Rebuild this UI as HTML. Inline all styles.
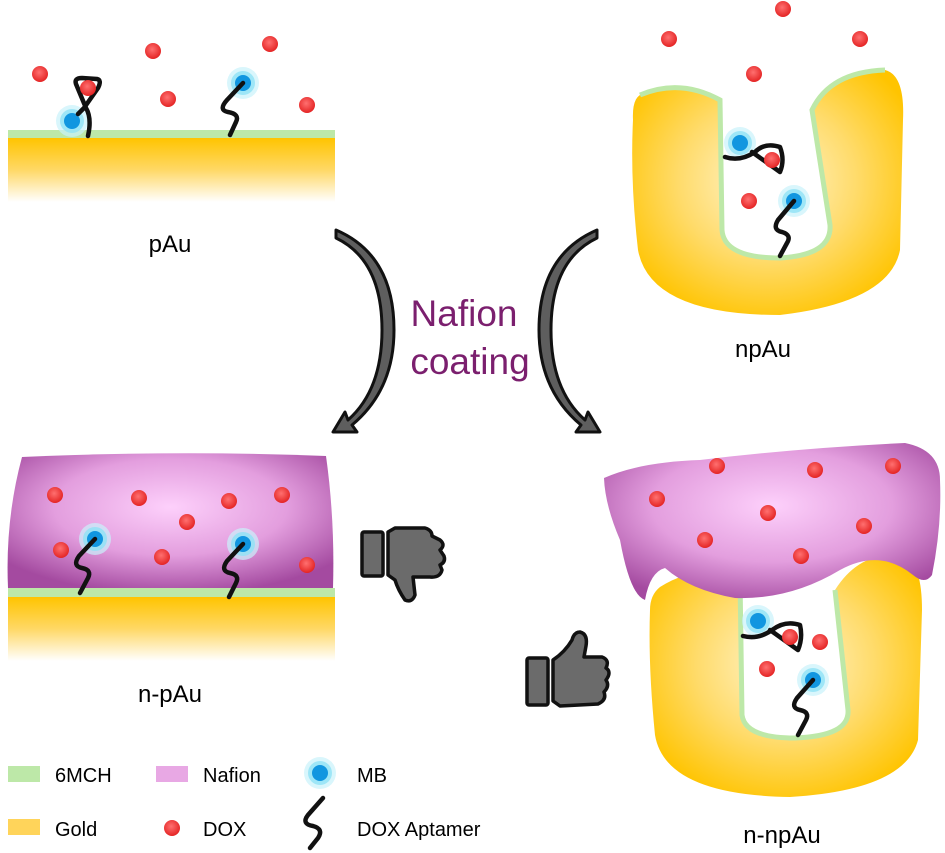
<!DOCTYPE html>
<html><head><meta charset="utf-8"><style>
html,body{margin:0;padding:0;background:#fff;}
svg{display:block;}
text{font-family:"Liberation Sans",Arial,sans-serif;}
</style></head><body>
<svg width="945" height="853" viewBox="0 0 945 853" xmlns="http://www.w3.org/2000/svg">
<defs>
<linearGradient id="goldL" x1="0" y1="0" x2="0" y2="1">
<stop offset="0" stop-color="#ffc400"/><stop offset="0.5" stop-color="#ffd866"/><stop offset="1" stop-color="#ffffff"/>
</linearGradient>
<radialGradient id="goldR" cx="0.5" cy="0.45" r="0.6">
<stop offset="0" stop-color="#fff6d6"/><stop offset="0.55" stop-color="#ffdb6a"/><stop offset="1" stop-color="#ffc400"/>
</radialGradient>
<radialGradient id="purp" cx="0.5" cy="0.4" r="0.65">
<stop offset="0" stop-color="#fdd0fb"/><stop offset="0.55" stop-color="#e39ede"/><stop offset="1" stop-color="#a44aa0"/>
</radialGradient>
<radialGradient id="red" cx="0.45" cy="0.4" r="0.6">
<stop offset="0" stop-color="#ff7070"/><stop offset="1" stop-color="#e42424"/>
</radialGradient>
<g id="dox"><circle r="8" fill="url(#red)"/></g>
<g id="mb"><circle r="16" fill="#c9f2fb" opacity="0.7"/><circle r="12" fill="#8fe2f5" opacity="0.8"/><circle r="8" fill="#1196e0"/></g>
</defs>

<!-- pAu -->
<rect x="8" y="138" width="327" height="64" fill="url(#goldL)"/>
<rect x="8" y="130" width="327" height="8" fill="#bde8a8"/>
<use href="#dox" x="40" y="74"/><use href="#dox" x="153" y="51"/><use href="#dox" x="168" y="99"/>
<use href="#dox" x="270" y="44"/><use href="#dox" x="307" y="105"/>
<use href="#mb" x="72" y="121"/>
<path d="M88,136 Q92,118 86,108 L76,84 Q74,78 82,78 L97,79 Q102,80 98,88 L84,108 L78,114" fill="none" stroke="#111" stroke-width="4.5" stroke-linecap="round" stroke-linejoin="round"/>
<use href="#dox" x="88" y="88"/>
<use href="#mb" x="243" y="83"/>
<path d="M243,83 L227,100 Q218,110 228,112 Q240,114 236,122 L230,135" fill="none" stroke="#111" stroke-width="4.5" stroke-linecap="round" stroke-linejoin="round"/>
<text x="170" y="252" font-size="24" text-anchor="middle">pAu</text>

<!-- npAu -->
<path d="M640,95 Q680,78 720,100 L722,230 Q724,258 780,258 Q832,255 830,225 L812,110 Q830,72 885,70 Q905,75 903,120 L900,250 Q890,302 780,315 Q650,315 638,250 Q630,180 633,120 Q632,100 640,95 Z" fill="url(#goldR)"/>
<path d="M640,95 Q680,78 720,100 L722,230 Q724,258 780,258 Q832,255 830,225 L812,110 Q830,72 885,70" fill="none" stroke="#bde8a8" stroke-width="5"/>
<use href="#dox" x="669" y="39"/><use href="#dox" x="783" y="9"/><use href="#dox" x="860" y="39"/><use href="#dox" x="754" y="74"/>
<use href="#dox" x="749" y="201"/>
<use href="#mb" x="740" y="143"/>
<path d="M725,157 Q740,162 755,152 Q765,142 780,147 Q785,160 780,172 L752,152" fill="none" stroke="#111" stroke-width="4.5" stroke-linecap="round" stroke-linejoin="round"/>
<use href="#dox" x="772" y="160"/>
<use href="#mb" x="794" y="201"/>
<path d="M794,201 L778,220 Q772,230 782,232 Q792,235 787,243 L780,256" fill="none" stroke="#111" stroke-width="4.5" stroke-linecap="round" stroke-linejoin="round"/>
<text x="763" y="357" font-size="24" text-anchor="middle">npAu</text>

<!-- arrows -->
<path d="M336,230 L336,238 Q382,260 382,330 Q382,390 348,420 L345,412 L333,432 L357,432 L352,425 Q394,390 394,330 Q394,255 336,230 Z" fill="#5e5e5e" stroke="#111" stroke-width="3" stroke-linejoin="round"/>
<path d="M597,230 L597,238 Q551,260 551,330 Q551,390 585,420 L588,412 L600,432 L576,432 L581,425 Q539,390 539,330 Q539,255 597,230 Z" fill="#5e5e5e" stroke="#111" stroke-width="3" stroke-linejoin="round"/>
<text x="464" y="326" font-size="37" fill="#7b1f6e" text-anchor="middle">Nafion</text>
<text x="470" y="374" font-size="37" fill="#7b1f6e" text-anchor="middle">coating</text>

<!-- n-pAu -->
<path d="M22,457 Q180,450 326,456 Q335,520 333,588 L8,588 Q5,520 22,457 Z" fill="url(#purp)"/>
<rect x="8" y="597" width="327" height="64" fill="url(#goldL)"/>
<rect x="8" y="588" width="327" height="9" fill="#bde8a8"/>
<use href="#dox" x="55" y="495"/><use href="#dox" x="139" y="498"/><use href="#dox" x="229" y="501"/>
<use href="#dox" x="282" y="495"/><use href="#dox" x="187" y="522"/><use href="#dox" x="61" y="550"/>
<use href="#dox" x="162" y="557"/><use href="#dox" x="307" y="565"/>
<use href="#mb" x="95" y="539"/>
<path d="M95,539 L79,556 Q72,566 82,568 Q92,570 88,578 L80,593" fill="none" stroke="#111" stroke-width="4.5" stroke-linecap="round" stroke-linejoin="round"/>
<use href="#mb" x="243" y="544"/>
<path d="M243,544 L227,561 Q220,571 230,573 Q240,575 236,583 L229,597" fill="none" stroke="#111" stroke-width="4.5" stroke-linecap="round" stroke-linejoin="round"/>
<text x="170" y="702" font-size="24" text-anchor="middle">n-pAu</text>

<!-- thumbs down -->
<g stroke="#111" stroke-width="3.5" fill="#6b6b6b" stroke-linejoin="round">
<rect x="362" y="532" width="21" height="44" rx="2"/>
<path d="M388,532 L395,528 L425,528 Q432,530 432,536 L440,540 Q446,545 440,550 L444,556 Q446,562 440,565 L442,570 Q440,578 430,577 L413,577 L415,595 Q412,603 405,600 Q398,590 395,580 L388,575 Z"/>
</g>
<!-- thumbs up -->
<g stroke="#111" stroke-width="3.5" fill="#6b6b6b" stroke-linejoin="round">
<rect x="527" y="658" width="21" height="47" rx="2"/>
<path d="M553,660 Q565,652 572,640 Q574,632 580,632 Q588,634 586,646 L584,657 L602,657 Q610,660 606,668 Q612,672 606,680 Q610,686 604,692 Q607,700 598,704 L560,706 L553,701 Z"/>
</g>

<!-- n-npAu -->
<path d="M660,587 Q700,562 740,578 L742,715 Q745,738 795,738 Q850,736 848,710 L835,590 Q860,550 905,555 Q922,565 922,610 L918,740 Q905,790 790,797 Q665,795 655,735 Q648,665 650,610 Q650,595 660,587 Z" fill="url(#goldR)"/>
<path d="M740,578 L742,715 Q745,738 795,738 Q850,736 848,710 L835,590" fill="none" stroke="#bde8a8" stroke-width="5"/>
<path d="M604,478 Q640,462 700,460 Q800,448 905,443 Q940,450 940,480 Q942,525 932,575 Q925,585 913,575 Q880,548 840,570 Q790,600 735,598 Q690,590 665,568 Q650,572 645,600 Q630,595 620,540 Q605,505 604,478 Z" fill="url(#purp)"/>
<use href="#dox" x="717" y="466"/><use href="#dox" x="815" y="470"/><use href="#dox" x="893" y="466"/>
<use href="#dox" x="657" y="499"/><use href="#dox" x="768" y="513"/><use href="#dox" x="864" y="526"/>
<use href="#dox" x="705" y="540"/><use href="#dox" x="801" y="556"/>
<use href="#mb" x="758" y="621"/>
<path d="M743,636 Q758,640 772,630 Q785,620 800,625 Q803,638 798,650 L770,630" fill="none" stroke="#111" stroke-width="4.5" stroke-linecap="round" stroke-linejoin="round"/>
<use href="#dox" x="790" y="637"/><use href="#dox" x="820" y="642"/><use href="#dox" x="767" y="669"/>
<use href="#mb" x="813" y="680"/>
<path d="M813,680 L797,698 Q790,708 800,710 Q810,712 806,720 L798,735" fill="none" stroke="#111" stroke-width="4.5" stroke-linecap="round" stroke-linejoin="round"/>
<text x="782" y="843" font-size="24" text-anchor="middle">n-npAu</text>

<!-- legend -->
<rect x="8" y="766" width="32" height="16" fill="#bde8a8"/>
<text x="55" y="782" font-size="20">6MCH</text>
<rect x="156" y="766" width="32" height="16" fill="#e8a8e4"/>
<text x="203" y="782" font-size="20">Nafion</text>
<use href="#mb" x="320" y="773"/>
<text x="357" y="782" font-size="20">MB</text>
<rect x="8" y="819" width="32" height="16" fill="#ffd45a"/>
<text x="55" y="836" font-size="20">Gold</text>
<use href="#dox" x="172" y="828"/>
<text x="203" y="836" font-size="20">DOX</text>
<path d="M323,798 L308,815 Q301,824 313,826 Q324,829 318,838 L310,848" fill="none" stroke="#111" stroke-width="4.5" stroke-linecap="round" stroke-linejoin="round"/>
<text x="357" y="836" font-size="20">DOX Aptamer</text>
</svg>
</body></html>
